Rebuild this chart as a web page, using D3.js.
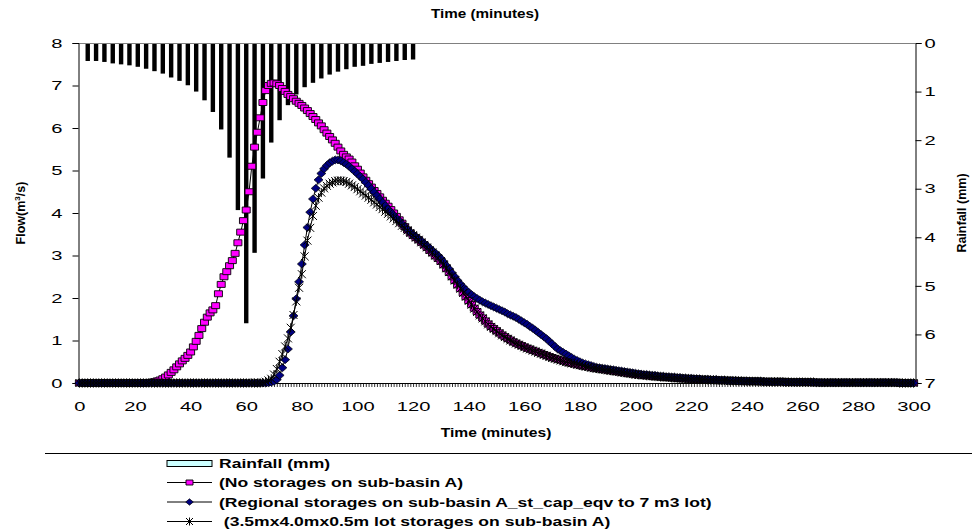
<!DOCTYPE html>
<html><head><meta charset="utf-8">
<script src="https://cdn.jsdelivr.net/npm/d3@7"></script>
<style>
body{margin:0;background:#fff}
svg{display:block}
text{font-family:"Liberation Sans",Arial,sans-serif;fill:#000}
</style>
</head><body>
<svg id="chart" width="972" height="530"></svg>
<script>
// ---------- data ----------
const rainTime = [3,6,9,12,15,18,21,24,27,30,33,36,39,42,45,48,51,54,57,60,
  63,66,69,72,75,78,81,84,87,90,93,96,99,102,105,108,111,114,117,120];
const rainfall = [0.37,0.37,0.39,0.42,0.44,0.46,0.49,0.53,0.58,0.63,
  0.71,0.78,0.87,1.00,1.18,1.42,1.78,2.36,3.44,5.77,
  4.32,2.79,2.05,1.59,1.28,1.06,0.91,0.82,0.73,0.65,
  0.59,0.54,0.49,0.47,0.43,0.41,0.39,0.37,0.35,0.34];

const flowNoStorage = [0,0,0,0,0,0,0,0,0,0,
 0,0,0,0,0,0,0,0,0,0,
 0,0,0,0,0,0.01,0.02,0.03,0.05,0.07,
 0.10,0.14,0.19,0.25,0.31,0.38,0.45,0.52,0.58,0.65,
 0.73,0.85,0.98,1.12,1.28,1.43,1.55,1.65,1.72,1.82,
 2.10,2.32,2.50,2.62,2.76,2.88,3.05,3.30,3.55,3.82,
 4.07,4.50,5.10,5.55,5.90,6.24,6.60,6.88,7.00,7.05,
 7.06,7.04,7.00,6.93,6.86,6.79,6.74,6.69,6.63,6.58,
 6.53,6.47,6.41,6.34,6.27,6.20,6.12,6.05,5.96,5.88,
 5.80,5.72,5.64,5.55,5.46,5.38,5.32,5.27,5.20,5.11,
 5.03,4.94,4.85,4.77,4.69,4.61,4.53,4.46,4.38,4.30,
 4.23,4.16,4.08,4.00,3.92,3.84,3.76,3.68,3.60,3.53,
 3.47,3.42,3.37,3.31,3.25,3.19,3.12,3.06,2.99,2.93,
 2.86,2.78,2.69,2.60,2.50,2.41,2.31,2.22,2.12,2.03,
 1.94,1.85,1.76,1.68,1.60,1.53,1.46,1.39,1.33,1.28,
 1.23,1.18,1.13,1.09,1.05,1.01,0.97,0.94,0.91,0.88,
 0.85,0.82,0.80,0.77,0.75,0.72,0.70,0.67,0.65,0.62,
 0.60,0.58,0.56,0.54,0.52,0.50,0.48,0.46,0.45,0.43,
 0.42,0.40,0.39,0.38,0.36,0.35,0.34,0.33,0.32,0.31,
 0.30,0.29,0.28,0.27,0.26,0.25,0.24,0.23,0.22,0.21,
 0.20,0.19,0.19,0.18,0.17,0.17,0.16,0.15,0.15,0.14,
 0.14,0.13,0.13,0.12,0.12,0.11,0.11,0.10,0.10,0.10,
 0.09,0.09,0.09,0.08,0.08,0.08,0.07,0.07,0.07,0.07,
 0.06,0.06,0.06,0.06,0.05,0.05,0.05,0.05,0.05,0.04,
 0.04,0.04,0.04,0.04,0.04,0.04,0.03,0.03,0.03,0.03,
 0.03,0.03,0.03,0.03,0.02,0.02,0.02,0.02,0.02,0.02,
 0.02,0.02,0.02,0.02,0.02,0.01,0.01,0.01,0.01,0.01,
 0.01,0.01,0.01,0.01,0.01,0.01,0.01,0.01,0.01,0.01,
 0.01,0.01,0.01,0.01,0.01,0.01,0.01,0.01,0.01,0.01,
 0.01,0.01,0.01,0.01,0.01,0,0,0,0,0,
 0];

const flowRegional = [0,0,0,0,0,0,0,0,0,0,
 0,0,0,0,0,0,0,0,0,0,
 0,0,0,0,0,0,0,0,0,0,
 0,0,0,0,0,0,0,0,0,0,
 0,0,0,0,0,0,0,0,0,0,
 0,0,0,0,0,0,0,0,0,0,
 0,0,0,0,0,0,0,0,0.01,0.02,
 0.04,0.08,0.18,0.36,0.55,0.80,1.20,1.58,1.98,2.38,
 2.80,3.25,3.66,4.02,4.33,4.58,4.78,4.93,5.04,5.12,
 5.18,5.22,5.25,5.25,5.23,5.19,5.15,5.10,5.04,4.98,
 4.92,4.86,4.80,4.72,4.65,4.57,4.49,4.41,4.33,4.25,
 4.17,4.09,4.02,3.95,3.88,3.82,3.75,3.68,3.61,3.55,
 3.49,3.44,3.39,3.34,3.28,3.23,3.17,3.11,3.06,3.00,
 2.93,2.85,2.76,2.68,2.59,2.50,2.41,2.33,2.26,2.19,
 2.13,2.08,2.03,1.99,1.95,1.91,1.88,1.85,1.82,1.79,
 1.76,1.73,1.70,1.67,1.63,1.60,1.57,1.54,1.50,1.46,
 1.42,1.38,1.33,1.29,1.24,1.19,1.14,1.09,1.04,0.98,
 0.92,0.86,0.80,0.76,0.72,0.68,0.64,0.60,0.56,0.53,
 0.50,0.47,0.45,0.43,0.41,0.39,0.37,0.36,0.35,0.34,
 0.33,0.32,0.31,0.30,0.29,0.28,0.27,0.26,0.25,0.24,
 0.23,0.22,0.21,0.20,0.20,0.19,0.18,0.18,0.17,0.16,
 0.16,0.15,0.15,0.14,0.14,0.13,0.13,0.12,0.12,0.11,
 0.11,0.10,0.10,0.10,0.09,0.09,0.09,0.08,0.08,0.08,
 0.07,0.07,0.07,0.06,0.06,0.06,0.06,0.05,0.05,0.05,
 0.05,0.04,0.04,0.04,0.04,0.04,0.03,0.03,0.03,0.03,
 0.03,0.03,0.03,0.03,0.02,0.02,0.02,0.02,0.02,0.02,
 0.02,0.02,0.02,0.02,0.02,0.01,0.01,0.01,0.01,0.01,
 0.01,0.01,0.01,0.01,0.01,0.01,0.01,0.01,0.01,0.01,
 0.01,0.01,0.01,0.01,0.01,0.01,0.01,0.01,0.01,0.01,
 0.01,0.01,0.01,0.01,0.01,0,0,0,0,0,
 0];

const flowLot = [0,0,0,0,0,0,0,0,0,0,
 0,0,0,0,0,0,0,0,0,0,
 0,0,0,0,0,0,0,0,0,0,
 0,0,0,0,0,0,0,0,0,0,
 0,0,0,0,0,0,0,0,0,0,
 0,0,0,0,0,0,0,0,0,0,
 0,0,0,0,0,0,0.01,0.03,0.06,0.10,
 0.20,0.33,0.50,0.68,0.86,1.05,1.30,1.60,1.92,2.24,
 2.56,2.98,3.35,3.65,3.93,4.17,4.36,4.48,4.58,4.64,
 4.69,4.72,4.75,4.76,4.76,4.75,4.73,4.69,4.65,4.61,
 4.56,4.51,4.46,4.41,4.36,4.31,4.25,4.20,4.14,4.09,
 4.03,3.98,3.92,3.87,3.81,3.76,3.70,3.65,3.59,3.53,
 3.48,3.42,3.37,3.31,3.25,3.19,3.13,3.07,3.00,2.94,
 2.87,2.79,2.70,2.61,2.51,2.41,2.31,2.22,2.12,2.03,
 1.93,1.84,1.75,1.67,1.59,1.52,1.45,1.38,1.32,1.27,
 1.22,1.17,1.12,1.08,1.04,1.00,0.96,0.93,0.90,0.87,
 0.84,0.81,0.79,0.76,0.74,0.71,0.69,0.66,0.64,0.61,
 0.59,0.57,0.55,0.53,0.51,0.49,0.48,0.46,0.45,0.43,
 0.42,0.40,0.39,0.38,0.36,0.35,0.34,0.33,0.32,0.31,
 0.30,0.29,0.28,0.27,0.26,0.25,0.24,0.23,0.22,0.21,
 0.20,0.19,0.19,0.18,0.17,0.17,0.16,0.15,0.15,0.14,
 0.14,0.13,0.13,0.12,0.12,0.11,0.11,0.10,0.10,0.10,
 0.09,0.09,0.09,0.08,0.08,0.08,0.07,0.07,0.07,0.07,
 0.06,0.06,0.06,0.06,0.05,0.05,0.05,0.05,0.05,0.04,
 0.04,0.04,0.04,0.04,0.04,0.04,0.03,0.03,0.03,0.03,
 0.03,0.03,0.03,0.03,0.02,0.02,0.02,0.02,0.02,0.02,
 0.02,0.02,0.02,0.02,0.02,0.01,0.01,0.01,0.01,0.01,
 0.01,0.01,0.01,0.01,0.01,0.01,0.01,0.01,0.01,0.01,
 0.01,0.01,0.01,0.01,0.01,0.01,0.01,0.01,0.01,0.01,
 0.01,0.01,0.01,0.01,0.01,0,0,0,0,0,
 0];

const timeTicks = [0,20,40,60,80,100,120,140,160,180,200,220,240,260,280,300];
const flowTicks = [0,1,2,3,4,5,6,7,8];
const rainTicks = [0,1,2,3,4,5,6,7];
const seriesNames = ["(No storages on sub-basin A)",
  "(Regional storages on sub-basin A_st_cap_eqv to 7 m3 lot)",
  " (3.5mx4.0mx0.5m lot storages on sub-basin A)"];
const rainName = "Rainfall (mm)";

// minute index of each flow value
const minutes = flowNoStorage.map((d, i) => i);

// ---------- layout ----------
const svg = d3.select("#chart");
const L = 78, R = 915, T = 43, B = 383;
const SX = 1.55;   // horizontal glyph stretch of the reference text
const LSX = 1.35;
const FONT = "Liberation Sans, Arial, sans-serif";

const x = d3.scaleLinear().domain([-0.5, 300.5]).range([L, R]);
const y = d3.scaleLinear().domain([0, 8]).range([B, T]);
const yR = d3.scaleLinear().domain([0, 7]).range([T, B]);

function stretch(sel, sx) {
  sel.each(function () {
    const t = d3.select(this);
    const tx = +t.attr("x") || 0, ty = +t.attr("y") || 0;
    t.attr("x", 0).attr("y", 0).attr("transform", `translate(${tx},${ty}) scale(${sx},1)`);
  });
}

// rainfall bars (hanging from top)
svg.append("g").selectAll("rect").data(rainTime).join("rect")
  .attr("x", (d) => x(d) - 2.2)
  .attr("y", yR(0))
  .attr("width", 4.4)
  .attr("height", (d, i) => yR(rainfall[i]) - yR(0))
  .attr("fill", "#000");

// top gray axis line
svg.append("line").attr("x1", L).attr("x2", R).attr("y1", T + 0.5).attr("y2", T + 0.5)
  .attr("stroke", "#808080").attr("stroke-width", 1);

// bottom axis with minute ticks
const gx = svg.append("g").attr("transform", `translate(0,${B})`)
  .call(d3.axisBottom(x).tickValues(minutes).tickSize(4).tickFormat(""));
gx.select(".domain").remove();
gx.selectAll(".tick line").attr("stroke", "#000").attr("stroke-width", 0.8);
svg.append("line").attr("x1", L).attr("x2", R).attr("y1", B + 0.5).attr("y2", B + 0.5)
  .attr("stroke", "#000");

const gxl = svg.append("g").attr("transform", `translate(0,${B})`)
  .call(d3.axisBottom(x).tickValues(timeTicks).tickSize(0).tickPadding(19));
gxl.select(".domain").remove();
gxl.selectAll("text").attr("font-size", 13).attr("font-family", FONT);
stretch(gxl.selectAll("text"), SX);

// left axis
const gy = svg.append("g").attr("transform", `translate(${L + 0.5},0)`)
  .call(d3.axisLeft(y).tickValues(flowTicks).tickSize(6).tickPadding(10));
gy.select(".domain").attr("stroke", "#000");
gy.selectAll("text").attr("font-size", 13).attr("font-family", FONT);
stretch(gy.selectAll("text"), SX);

// right axis
const gyr = svg.append("g").attr("transform", `translate(${R + 0.5},0)`)
  .call(d3.axisRight(yR).tickValues(rainTicks).tickSize(6).tickPadding(3).tickFormat(d3.format("d")));
gyr.selectAll("text").attr("font-size", 13).attr("font-family", FONT);
stretch(gyr.selectAll("text"), SX);

// marker shapes
const square = "M-4,-3h8v6h-8z";
const diamond = "M0,-4L4.5,0L0,4L-4.5,0Z";
const star = "M-4,-4L4,4M-4,4L4,-4M0,-4.5V4.5";

const series = [
  { values: flowNoStorage, shape: square, fill: "#FF00FF", stroke: "#000", sw: 0.9 },
  { values: flowRegional, shape: diamond, fill: "#000080", stroke: "#000", sw: 0.7 },
  { values: flowLot, shape: star, fill: "none", stroke: "#000", sw: 1 }
];

const line = d3.line().x((d, i) => x(i)).y((d) => y(d));
series.forEach((s) => {
  const g = svg.append("g");
  g.append("path").attr("d", line(s.values)).attr("fill", "none")
    .attr("stroke", "#000").attr("stroke-width", 1);
  g.selectAll("path.m").data(s.values).join("path").attr("class", "m")
    .attr("transform", (d, i) => `translate(${x(i)},${y(d)})`)
    .attr("d", s.shape).attr("fill", s.fill).attr("stroke", s.stroke)
    .attr("stroke-width", s.sw);
});

// axis titles
function boldText(txt, px, py, size, sx) {
  return svg.append("text").attr("text-anchor", "middle").attr("font-weight", "bold")
    .attr("font-size", size).attr("transform", `translate(${px},${py}) scale(${sx},1)`).text(txt);
}
boldText("Time (minutes)", 485, 18, 12.5, 1.22);
boldText("Time (minutes)", 496, 437, 12.5, 1.25);

const fl = svg.append("text").attr("text-anchor", "middle").attr("font-weight", "bold")
  .attr("font-size", 12.5).attr("transform", "translate(25,213) rotate(-90)");
fl.append("tspan").text("Flow(m");
fl.append("tspan").attr("font-size", 8).attr("dy", -5).text("3");
fl.append("tspan").attr("dy", 5).text("/s)");

svg.append("text").attr("text-anchor", "middle").attr("font-weight", "bold")
  .attr("font-size", 12.5).attr("transform", "translate(966,213) rotate(-90)")
  .text("Rainfall (mm)");

// legend
svg.append("line").attr("x1", 45).attr("x2", 972).attr("y1", 453.5).attr("y2", 453.5)
  .attr("stroke", "#000");
const lg = svg.append("g");
const symX0 = 167, symX1 = 212, txtX = 219;
const rowY = [463.5, 482.5, 502, 521.5];
lg.append("rect").attr("x", symX0).attr("y", rowY[0] - 3).attr("width", symX1 - symX0).attr("height", 6)
  .attr("fill", "#CCFFFF").attr("stroke", "#000").attr("stroke-width", 1);
const legShapes = ["M-3.5,-2.5h7v5h-7z", "M0,-3.2L3.8,0L0,3.2L-3.8,0Z", "M-3.5,-3.5L3.5,3.5M-3.5,3.5L3.5,-3.5M0,-4V4"];
series.forEach((s, i) => {
  const yy = rowY[i + 1];
  lg.append("line").attr("x1", symX0).attr("x2", symX1).attr("y1", yy).attr("y2", yy)
    .attr("stroke", "#000").attr("stroke-width", 1);
  lg.append("path").attr("transform", `translate(${(symX0 + symX1) / 2},${yy})`)
    .attr("d", legShapes[i]).attr("fill", s.fill).attr("stroke", s.stroke).attr("stroke-width", s.sw);
});
[rainName, ...seriesNames].forEach((nm, i) => {
  lg.append("text").attr("font-weight", "bold").attr("font-size", 13)
    .style("white-space", "pre")
    .attr("transform", `translate(${txtX},${rowY[i] + 4.5}) scale(${LSX},1)`)
    .text(nm);
});
</script>
</body></html>
